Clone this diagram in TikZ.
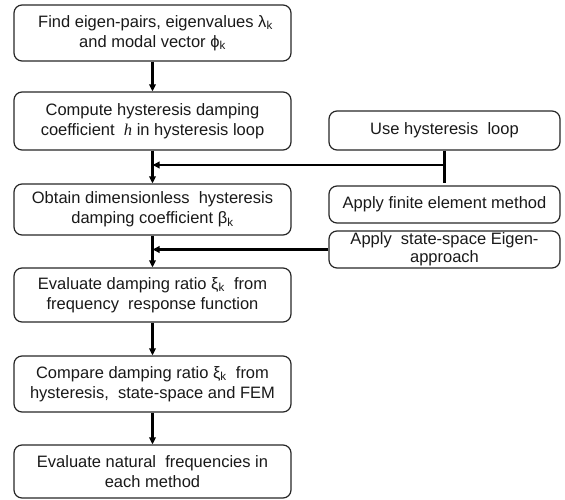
\documentclass[tikz,border=0pt]{standalone}
\usepackage{fontspec}
\setmainfont{Liberation Sans}
\newfontfamily\serifit{Liberation Serif}
\usetikzlibrary{arrows.meta}
\begin{document}
\begin{tikzpicture}[x=1pt,y=-1pt,
 box/.style={draw=black!85, line width=1.2pt, rounded corners=8pt, align=center, inner sep=0pt,
   font=\fontsize{16.5}{20}\selectfont, text=black!90},
 lbox/.style={box, minimum width=277pt},
 rbox/.style={box, minimum width=231pt},
 conn/.style={line width=2.4pt, black},
 arr/.style={conn, -{Triangle[length=7pt,width=6.5pt]}}]
\useasboundingbox (0,0) rectangle (565,500);
\node[lbox, minimum height=56pt] (b1) at (152.5,33) {\hspace{6pt}Find eigen-pairs, eigenvalues λ\textsubscript{k}\\and modal vector ϕ\textsubscript{k}};
\node[lbox, minimum height=58pt] (b2) at (152.5,121) {Compute hysteresis damping\\coefficient \ {\serifit\itshape h} in hysteresis loop};
\node[lbox, minimum height=51pt] (b3) at (152.5,209.5) {Obtain dimensionless \ hysteresis\\damping coefficient β\textsubscript{k}};
\node[lbox, minimum height=54pt] (b4) at (152.5,295) {Evaluate damping ratio ξ\textsubscript{k} \ from\\frequency \ response function};
\node[lbox, minimum height=56pt] (b5) at (152.5,384) {Compare damping ratio ξ\textsubscript{k} \ from\\hysteresis, \ state-space and FEM};
\node[lbox, minimum height=53pt] (b6) at (152.5,471.5) {Evaluate natural \ frequencies in\\each method};
\node[rbox, minimum height=39pt] (r1) at (444.5,130.5) {Use hysteresis \ loop};
\node[rbox, minimum height=37pt] (r2) at (444.5,204.5) {Apply finite element method};
\node[rbox, minimum height=37pt, font=\fontsize{16.5}{18}\selectfont] (r3) at (444.5,249.5) {Apply \ state-space Eigen-\\approach};
\coordinate (j1) at (444.5,165);
\coordinate (j1end) at (444.5,183);
\draw[arr] (b1.south) -- (b2.north);
\draw[arr] (b2.south) -- (b3.north);
\draw[arr] (b3.south) -- (b4.north);
\draw[arr] (b4.south) -- (b5.north);
\draw[arr] (b5.south) -- (b6.north);
\draw[conn] (r1.south) -- (j1end);
\draw[arr] (j1) -- (j1 -| b2.south);
\draw[arr] (r3.west) -- (r3.west -| b3.south);
\end{tikzpicture}
\end{document}
